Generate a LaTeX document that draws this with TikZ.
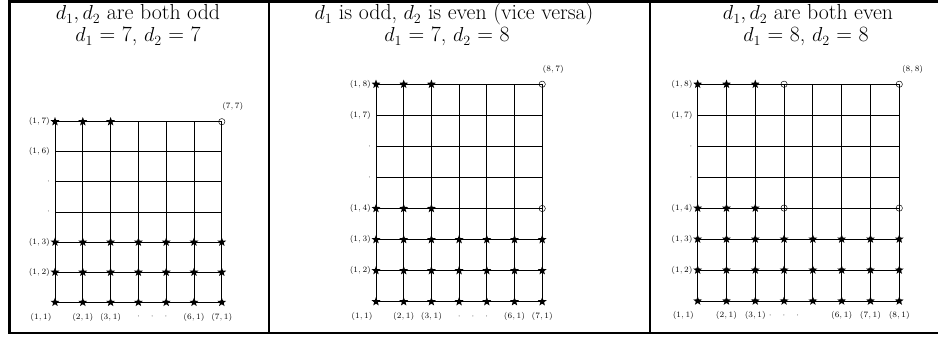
\documentclass[tikz,border=0pt]{standalone}
\usepackage{fontspec}
\usepackage{tikz}
\usetikzlibrary{shapes.geometric,positioning}
\tikzset{
  tabline/.style={line width=2.2pt,line join=miter},
  divider/.style={line width=1.7pt},
  lattice/.style={line width=0.7pt},
  starmark/.style={star,star points=5,star point ratio=2.4,fill=black,
    inner sep=0pt,minimum size=2.8mm},
  ringmark/.style={circle,draw=black,line width=0.4pt,inner sep=0pt,minimum size=1.9mm},
  coord/.style={font=\fontsize{7.5}{9}\selectfont,inner sep=0.5pt},
  head/.style={font=\fontsize{18.6}{22}\selectfont,anchor=base,inner sep=0pt},
}

\begin{document}
\begin{tikzpicture}
  \useasboundingbox (0,0) rectangle (28.14,10.11);
  % table rules
  \draw[tabline] (28.14,10.065) -- (0.285,10.065) -- (0.285,0.12) -- (28.14,0.12);
  \draw[divider] (8.07,0.12) -- (8.07,10.065);
  \draw[divider] (19.5,0.12) -- (19.5,10.065);

  \node[head] (t1a) at (4.14,9.51) {$d_1,d_2$ are both odd};
  \node[head] (t1b) at (4.14,8.85) {$d_1$ = 7, $d_2$ = 7};
  \node[head] (t2a) at (13.62,9.51) {$d_1$ is odd, $d_2$ is even (vice versa)};
  \node[head] (t2b) at (13.41,8.85) {$d_1$ = 7, $d_2$ = 8};
  \node[head] (t3a) at (24.24,9.51) {$d_1,d_2$ are both even};
  \node[head] (t3b) at (24.18,8.85) {$d_1$ = 8, $d_2$ = 8};

  % odd / odd
  \begin{scope}[shift={(1.65,1.041)},x=0.834cm,y=0.903cm]
    \foreach \i in {0,...,6} {
      \draw[lattice] (\i,0) -- (\i,6);
      \draw[lattice] (0,\i) -- (6,\i);
    }
    \foreach \i in {0,...,6} \foreach \j in {0,1,2}
      \node[starmark] (a-\i-\j) at (\i,\j) {};
    \foreach \i in {0,1,2} \node[starmark] (a-\i-6) at (\i,6) {};
    \node[ringmark] (a-6-6) at (6,6) {};
    \foreach \j/\t in {1/{$(1,2)$},2/{$(1,3)$},3/{$\cdot$},4/{$\cdot$},5/{$(1,6)$},6/{$(1,7)$}}
      \node[coord,anchor=east,xshift=-1.3mm] (a-l\j) at (0,\j) {\t};
    \node[coord] (a-b0) at ([shift={(-4.2mm,-4.4mm)}]0,0) {$(1,1)$};
    \foreach \i/\t in {1/{$(2,1)$},2/{$(3,1)$},5/{$(6,1)$},6/{$(7,1)$}}
      \node[coord,yshift=-4.4mm] (a-b\i) at (\i,0) {\t};
    \node[coord,yshift=-4.4mm] (a-dots) at (3.5,0) {$\cdot\quad\cdot\quad\cdot$};
    \node[coord] (a-top) at ([shift={(3.3mm,4.5mm)}]6,6) {$(7,7)$};
  \end{scope}

  % odd / even
  \begin{scope}[shift={(11.28,1.059)},x=0.831cm,y=0.932cm]
    \foreach \i in {0,...,6} \draw[lattice] (\i,0) -- (\i,7);
    \foreach \j in {0,...,7} \draw[lattice] (0,\j) -- (6,\j);
    \foreach \i in {0,...,6} \foreach \j in {0,1,2}
      \node[starmark] (b-\i-\j) at (\i,\j) {};
    \foreach \j in {3,7} {
      \foreach \i in {0,1,2} \node[starmark] (b-\i-\j) at (\i,\j) {};
      \node[ringmark] (b-6-\j) at (6,\j) {};
    }
    \foreach \j/\t in {1/{$(1,2)$},2/{$(1,3)$},3/{$(1,4)$},4/{$\cdot$},5/{$\cdot$},6/{$(1,7)$},7/{$(1,8)$}}
      \node[coord,anchor=east,xshift=-1.3mm] (b-l\j) at (0,\j) {\t};
    \node[coord] (b-b0) at ([shift={(-4.2mm,-4.4mm)}]0,0) {$(1,1)$};
    \foreach \i/\t in {1/{$(2,1)$},2/{$(3,1)$},5/{$(6,1)$},6/{$(7,1)$}}
      \node[coord,yshift=-4.4mm] (b-b\i) at (\i,0) {\t};
    \node[coord,yshift=-4.4mm] (b-dots) at (3.5,0) {$\cdot\quad\cdot\quad\cdot$};
    \node[coord] (b-top) at ([shift={(3.3mm,4.3mm)}]6,7) {$(8,7)$};
  \end{scope}

  % even / even
  \begin{scope}[shift={(20.93,1.08)},x=0.864cm,y=0.929cm]
    \foreach \i in {0,...,7} {
      \draw[lattice] (\i,0) -- (\i,7);
      \draw[lattice] (0,\i) -- (7,\i);
    }
    \foreach \i in {0,...,7} \foreach \j in {0,1,2}
      \node[starmark] (c-\i-\j) at (\i,\j) {};
    \foreach \j in {3,7} {
      \foreach \i in {0,1,2} \node[starmark] (c-\i-\j) at (\i,\j) {};
      \node[ringmark] (c-3-\j) at (3,\j) {};
      \node[ringmark] (c-7-\j) at (7,\j) {};
    }
    \foreach \j/\t in {1/{$(1,2)$},2/{$(1,3)$},3/{$(1,4)$},4/{$\cdot$},5/{$\cdot$},6/{$(1,7)$},7/{$(1,8)$}}
      \node[coord,anchor=east,xshift=-1.3mm] (c-l\j) at (0,\j) {\t};
    \node[coord] (c-b0) at ([shift={(-4.3mm,-4.4mm)}]0,0) {$(1,1)$};
    \foreach \i/\t in {1/{$(2,1)$},2/{$(3,1)$},5/{$(6,1)$},6/{$(7,1)$},7/{$(8,1)$}}
      \node[coord,yshift=-4.4mm] (c-b\i) at (\i,0) {\t};
    \node[coord,yshift=-4.4mm] (c-dots) at (3,0) {$\cdot\quad\cdot\quad\cdot$};
    \node[coord] (c-top) at ([shift={(4mm,4.3mm)}]7,7) {$(8,8)$};
  \end{scope}
\end{tikzpicture}
\end{document}
